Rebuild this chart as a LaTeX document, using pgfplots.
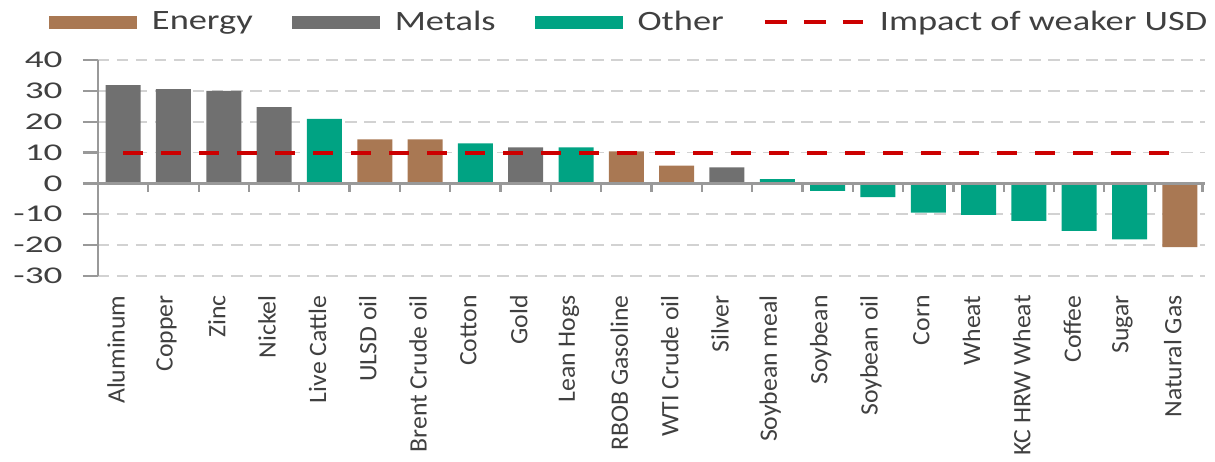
\documentclass[border=0pt]{standalone}
\usepackage{pgfplots}
\pgfplotsset{compat=1.18}
\usepackage{fontspec}
\setmainfont{Carlito}
\newfontfamily\ytfont{Carlito}[FakeStretch=1.55]
\newfontfamily\lgfont{Carlito}[FakeStretch=1.3]
\newfontfamily\xlfont{Carlito}[FakeStretch=1.03]
\definecolor{energy}{HTML}{A97853}
\definecolor{metals}{HTML}{707070}
\definecolor{other}{HTML}{00A383}
\definecolor{usd}{HTML}{CC0000}
\definecolor{txt}{HTML}{404040}
\definecolor{axgray}{HTML}{999999}
\begin{document}
\begin{tikzpicture}
\begin{axis}[
  name=ax,
  scale only axis,
  width=553.5pt, height=108pt,
  xmin=-0.5, xmax=21.5, ymin=-30, ymax=40,
  ytick={-30,-20,...,40},
  yticklabels={{\ytfont -30},{\ytfont -20},{\ytfont -10},{\ytfont 0},{\ytfont 10},{\ytfont 20},{\ytfont 30},{\ytfont 40}},
  xtick={0,...,21},
  xticklabels={Aluminum,Copper,Zinc,Nickel,Live Cattle,ULSD oil,Brent Crude oil,Cotton,Gold,Lean Hogs,RBOB Gasoline,WTI Crude oil,Silver,Soybean meal,Soybean,Soybean oil,Corn,Wheat,KC HRW Wheat,Coffee,Sugar,Natural Gas},
  axis x line=bottom, x axis line style={draw=none},
  axis y line=left, y axis line style={-, draw=axgray, line width=1.1pt},
  xtick style={draw=none},
  ytick style={draw=axgray, line width=1.1pt},
  tick align=outside, major tick length=7.5pt,
  ymajorgrids,
  grid style={draw=gray!35, line width=0.9pt, dash pattern=on 5.75pt off 3.75pt},
  yticklabel style={font=\fontsize{12}{13}\ytfont, text=txt, inner sep=0pt},
  yticklabel shift=10pt,
  xticklabel style={xshift=-3.5pt, rotate=90, anchor=east, font=\fontsize{12.5}{14}\xlfont, text=txt, inner sep=0pt},
  xticklabel shift=2pt,
  legend style={at={(0,1)}, anchor=west, xshift=-24.5pt, yshift=19pt, draw=none, fill=none,
    inner sep=0pt, outer sep=0pt, font=\fontsize{14}{16}\lgfont, text=txt,
    /tikz/every even column/.append style={column sep=19.5pt},
    /tikz/every odd column/.append style={column sep=7.5pt},
    nodes={inner sep=0pt}},
  legend columns=4, legend cell align=left,
]
\addplot[ybar, bar width=17.5pt, bar shift=0pt, fill=energy, draw=none,
  legend image code/.code={\fill[energy] (0pt,-3.25pt) rectangle (44pt,3.25pt);}]
  coordinates {(5,14.3) (6,14.3) (10,10.4) (11,5.8) (21,-20.6)};
\addlegendentry{Energy}
\addplot[ybar, bar width=17.5pt, bar shift=0pt, fill=metals, draw=none,
  legend image code/.code={\fill[metals] (0pt,-3.25pt) rectangle (44pt,3.25pt);}]
  coordinates {(0,31.9) (1,30.6) (2,30.0) (3,24.7) (8,11.7) (12,5.2)};
\addlegendentry{Metals}
\addplot[ybar, bar width=17.5pt, bar shift=0pt, fill=other, draw=none,
  legend image code/.code={\fill[other] (0pt,-3.25pt) rectangle (44pt,3.25pt);}]
  coordinates {(4,20.9) (7,13.0) (9,11.7) (13,1.4) (14,-2.4) (15,-4.4) (16,-9.5) (17,-10.2) (18,-12.1) (19,-15.4) (20,-18.1)};
\addlegendentry{Other}
% zero line and category separators
\addplot[axgray, line width=1.25pt, mark=none, forget plot] coordinates {(-0.5,0) (21.5,0)};
\addplot[ycomb, axgray, line width=1.1pt, mark=none, forget plot] coordinates {
  (0.5,-2.92) (1.5,-2.92) (2.5,-2.92) (3.5,-2.92) (4.5,-2.92) (5.5,-2.92) (6.5,-2.92) (7.5,-2.92)
  (8.5,-2.92) (9.5,-2.92) (10.5,-2.92) (11.5,-2.92) (12.5,-2.92) (13.5,-2.92) (14.5,-2.92)
  (15.5,-2.92) (16.5,-2.92) (17.5,-2.92) (18.5,-2.92) (19.5,-2.92) (20.5,-2.92) (21.45,-2.92)};
\addplot[usd, line width=2pt, dash pattern=on 10pt off 9pt, mark=none,
  legend image code/.code={\draw[usd, line width=2pt, dash pattern=on 11pt off 8.5pt] (0pt,0pt) -- (49pt,0pt);}]
  coordinates {(0,10) (21,10)};
\addlegendentry[xshift=-4pt]{Impact of weaker USD}
\end{axis}
\pgfresetboundingbox
\path ([xshift=-49pt,yshift=-92.5pt]ax.south west) rectangle ([xshift=5pt,yshift=30pt]ax.north east);
\end{tikzpicture}
\end{document}
